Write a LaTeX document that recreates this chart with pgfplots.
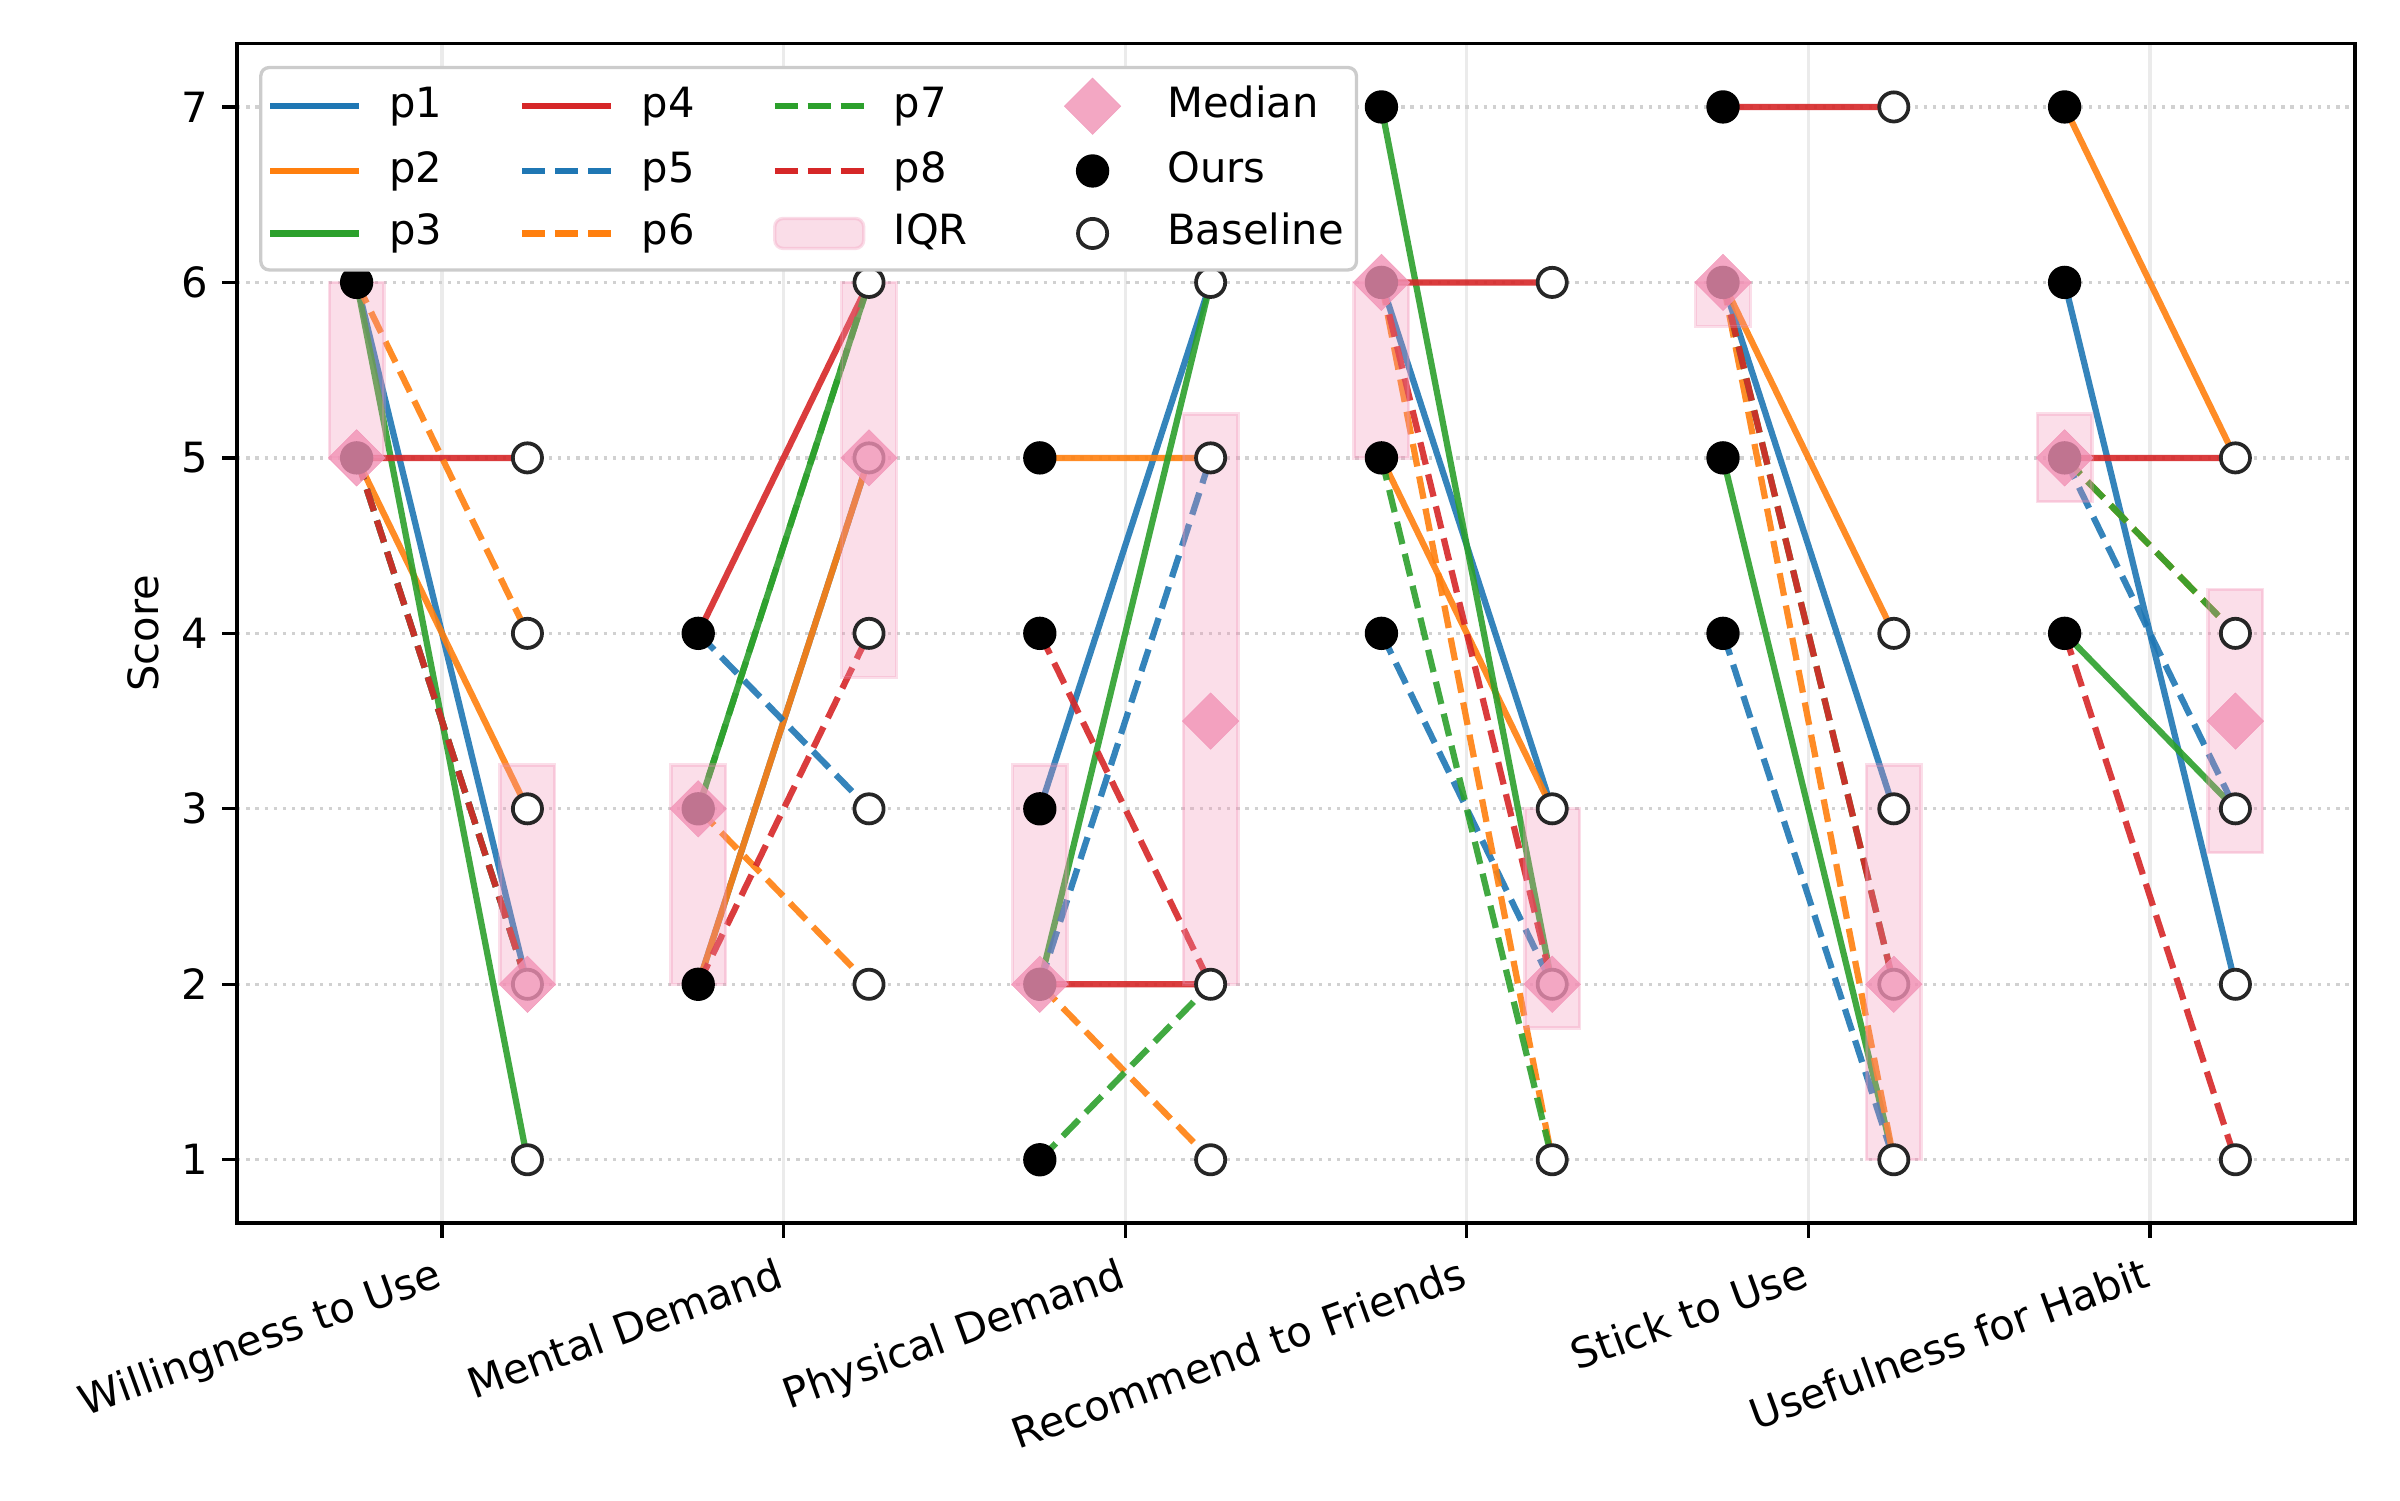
\documentclass[border=0pt]{standalone}
\usepackage{pgfplots}
\pgfplotsset{compat=1.18}
\usepackage{fontspec}
\setmainfont{DejaVu Sans}

\definecolor{c1}{HTML}{1F77B4}
\definecolor{c2}{HTML}{FF7F0E}
\definecolor{c3}{HTML}{2CA02C}
\definecolor{c4}{HTML}{D62728}
\definecolor{pinkm}{RGB}{241,145,181}
\definecolor{edgeg}{HTML}{262626}

\begin{document}
\begin{tikzpicture}
\begin{axis}[name=ax,
  width=508.3pt, height=283pt, scale only axis,
  xmin=-0.6, xmax=5.6, ymin=0.64, ymax=7.36,
  xtick={0,...,5}, ytick={1,...,7},
  xticklabels={Willingness to Use, Mental Demand, Physical Demand, Recommend to Friends, Stick to Use, Usefulness for Habit},
  xticklabel style={rotate=20, anchor=north east},
  tick label style={font=\fontsize{10}{12}\selectfont},
  /pgf/number format/assume math mode=true,
  tick pos=left, tick align=outside, major tick length=3.5pt,
  tick style={black, line width=0.8pt},
  axis line style={line width=0.8pt},
  xmajorgrids, ymajorgrids,
  x grid style={black!8, line width=0.8pt},
  y grid style={black!18, line width=0.8pt, dash pattern=on 0.8pt off 1.4pt},
  ylabel={Score},
  y label style={at={(axis description cs:0,0.5)}, anchor=center, yshift=22.6pt, font=\fontsize{10}{12}\selectfont},
  unbounded coords=jump,
  every axis plot/.append style={line width=1.5pt},
  legend image code/.code={\path (0cm,0cm) (0.75cm,0cm);
    \draw[mark repeat=2,mark phase=2,#1] plot coordinates {(0cm,0cm) (0.375cm,0cm) (0.75cm,0cm)};},
  legend columns=4,
  legend cell align=left,
  legend style={at={(0,1)}, anchor=north west, xshift=5.3pt, yshift=-5.3pt,
    draw=black!20, line width=0.8pt, rounded corners=2pt, fill=white,
    inner xsep=1.5pt, inner ysep=2.5pt, row sep=2.5pt,
    font=\fontsize{10}{12}\selectfont,
    nodes={inner sep=1.5pt, text height=7.5pt, text depth=2pt},
    /tikz/every odd column/.append style={column sep=5pt},
    /tikz/every even column/.append style={column sep=17pt}},
  medmark/.style={only marks, mark=square*, mark size=4.8pt,
    mark options={rotate=45, fill=pinkm, draw=pinkm, line width=0.1pt, opacity=0.8}},
  oursmark/.style={only marks, mark=*, mark size=3.8pt,
    mark options={fill=black, draw=black, line width=0.4pt}},
  basemark/.style={only marks, mark=*, mark size=3.5pt,
    mark options={fill=white, draw=edgeg, line width=0.9pt}},
  pdash/.style={dash pattern=on 5.5pt off 2.4pt},
  ]

% participant lines (ours at i-0.25, baseline at i+0.25)
\addplot[c1, opacity=0.9, forget plot] coordinates {(-0.25,6)(0.25,2) (0.5,nan) (0.75,2)(1.25,5) (1.5,nan) (1.75,3)(2.25,6) (2.5,nan) (2.75,6)(3.25,3) (3.5,nan) (3.75,6)(4.25,3) (4.5,nan) (4.75,6)(5.25,2)};
\addplot[c2, opacity=0.9, forget plot] coordinates {(-0.25,5)(0.25,3) (0.5,nan) (0.75,2)(1.25,5) (1.5,nan) (1.75,5)(2.25,5) (2.5,nan) (2.75,5)(3.25,3) (3.5,nan) (3.75,6)(4.25,4) (4.5,nan) (4.75,7)(5.25,5)};
\addplot[c3, opacity=0.9, forget plot] coordinates {(-0.25,6)(0.25,1) (0.5,nan) (0.75,3)(1.25,6) (1.5,nan) (1.75,2)(2.25,6) (2.5,nan) (2.75,7)(3.25,2) (3.5,nan) (3.75,5)(4.25,1) (4.5,nan) (4.75,4)(5.25,3)};
\addplot[c4, opacity=0.9, forget plot] coordinates {(-0.25,5)(0.25,5) (0.5,nan) (0.75,4)(1.25,6) (1.5,nan) (1.75,2)(2.25,2) (2.5,nan) (2.75,6)(3.25,6) (3.5,nan) (3.75,7)(4.25,7) (4.5,nan) (4.75,5)(5.25,5)};
\addplot[c1, opacity=0.9, pdash, forget plot] coordinates {(-0.25,5)(0.25,2) (0.5,nan) (0.75,4)(1.25,3) (1.5,nan) (1.75,2)(2.25,5) (2.5,nan) (2.75,4)(3.25,2) (3.5,nan) (3.75,4)(4.25,1) (4.5,nan) (4.75,5)(5.25,3)};
\addplot[c2, opacity=0.9, pdash, forget plot] coordinates {(-0.25,6)(0.25,4) (0.5,nan) (0.75,3)(1.25,2) (1.5,nan) (1.75,2)(2.25,1) (2.5,nan) (2.75,6)(3.25,1) (3.5,nan) (3.75,6)(4.25,1) (4.5,nan) (4.75,5)(5.25,4)};
\addplot[c3, opacity=0.9, pdash, forget plot] coordinates {(-0.25,5)(0.25,2) (0.5,nan) (0.75,3)(1.25,6) (1.5,nan) (1.75,1)(2.25,2) (2.5,nan) (2.75,5)(3.25,1) (3.5,nan) (3.75,6)(4.25,2) (4.5,nan) (4.75,5)(5.25,4)};
\addplot[c4, opacity=0.9, pdash, forget plot] coordinates {(-0.25,5)(0.25,2) (0.5,nan) (0.75,2)(1.25,4) (1.5,nan) (1.75,4)(2.25,2) (2.5,nan) (2.75,6)(3.25,2) (3.5,nan) (3.75,6)(4.25,2) (4.5,nan) (4.75,4)(5.25,1)};

% IQR boxes
\pgfplotsset{iqr/.style={fill=pinkm, fill opacity=0.3, draw=pinkm, draw opacity=0.3, line width=0.8pt, forget plot}}
\addplot[iqr] coordinates {(-0.33,5)(-0.17,5)(-0.17,6)(-0.33,6)} -- cycle;
\addplot[iqr] coordinates {(0.17,2)(0.33,2)(0.33,3.25)(0.17,3.25)} -- cycle;
\addplot[iqr] coordinates {(0.67,2)(0.83,2)(0.83,3.25)(0.67,3.25)} -- cycle;
\addplot[iqr] coordinates {(1.17,3.75)(1.33,3.75)(1.33,6)(1.17,6)} -- cycle;
\addplot[iqr] coordinates {(1.67,2)(1.83,2)(1.83,3.25)(1.67,3.25)} -- cycle;
\addplot[iqr] coordinates {(2.17,2)(2.33,2)(2.33,5.25)(2.17,5.25)} -- cycle;
\addplot[iqr] coordinates {(2.67,5)(2.83,5)(2.83,6)(2.67,6)} -- cycle;
\addplot[iqr] coordinates {(3.17,1.75)(3.33,1.75)(3.33,3)(3.17,3)} -- cycle;
\addplot[iqr] coordinates {(3.67,5.75)(3.83,5.75)(3.83,6)(3.67,6)} -- cycle;
\addplot[iqr] coordinates {(4.17,1)(4.33,1)(4.33,3.25)(4.17,3.25)} -- cycle;
\addplot[iqr] coordinates {(4.67,4.75)(4.83,4.75)(4.83,5.25)(4.67,5.25)} -- cycle;
\addplot[iqr] coordinates {(5.17,2.75)(5.33,2.75)(5.33,4.25)(5.17,4.25)} -- cycle;

% ours (filled) and baseline (open)
\addplot[oursmark, forget plot] coordinates {
 (-0.25,6)(-0.25,5)
 (0.75,4)(0.75,3)(0.75,2)
 (1.75,5)(1.75,4)(1.75,3)(1.75,2)(1.75,1)
 (2.75,7)(2.75,6)(2.75,5)(2.75,4)
 (3.75,7)(3.75,6)(3.75,5)(3.75,4)
 (4.75,7)(4.75,6)(4.75,5)(4.75,4)};
\addplot[basemark, forget plot] coordinates {
 (0.25,5)(0.25,4)(0.25,3)(0.25,2)(0.25,1)
 (1.25,6)(1.25,5)(1.25,4)(1.25,3)(1.25,2)
 (2.25,6)(2.25,5)(2.25,2)(2.25,1)
 (3.25,6)(3.25,3)(3.25,2)(3.25,1)
 (4.25,7)(4.25,4)(4.25,3)(4.25,2)(4.25,1)
 (5.25,5)(5.25,4)(5.25,3)(5.25,2)(5.25,1)};

% medians
\addplot[medmark, forget plot] coordinates {
 (-0.25,5)(0.25,2)(0.75,3)(1.25,5)(1.75,2)(2.25,3.5)(2.75,6)(3.25,2)(3.75,6)(4.25,2)(4.75,5)(5.25,3.5)};

% legend (row-major order to match column-major layout)
\addlegendimage{c1}\addlegendentry{p1}
\addlegendimage{c4}\addlegendentry{p4}
\addlegendimage{c3, pdash}\addlegendentry{p7}
\addlegendimage{medmark}\addlegendentry{Median}
\addlegendimage{c2}\addlegendentry{p2}
\addlegendimage{c1, pdash}\addlegendentry{p5}
\addlegendimage{c4, pdash}\addlegendentry{p8}
\addlegendimage{oursmark}\addlegendentry{Ours}
\addlegendimage{c3}\addlegendentry{p3}
\addlegendimage{c2, pdash}\addlegendentry{p6}
\addlegendimage{legend image code/.code={\draw[fill=pinkm, fill opacity=0.3, draw=pinkm, draw opacity=0.3, line width=0.8pt] (0cm,-3.6pt) rectangle (0.75cm,3.6pt);}}\addlegendentry{IQR}
\addlegendimage{basemark}\addlegendentry{Baseline}
\end{axis}
\pgfresetboundingbox
\path (ax.south west) ++(-56.9pt,-66.5pt) rectangle ++(576pt,360pt);
\end{tikzpicture}
\end{document}
